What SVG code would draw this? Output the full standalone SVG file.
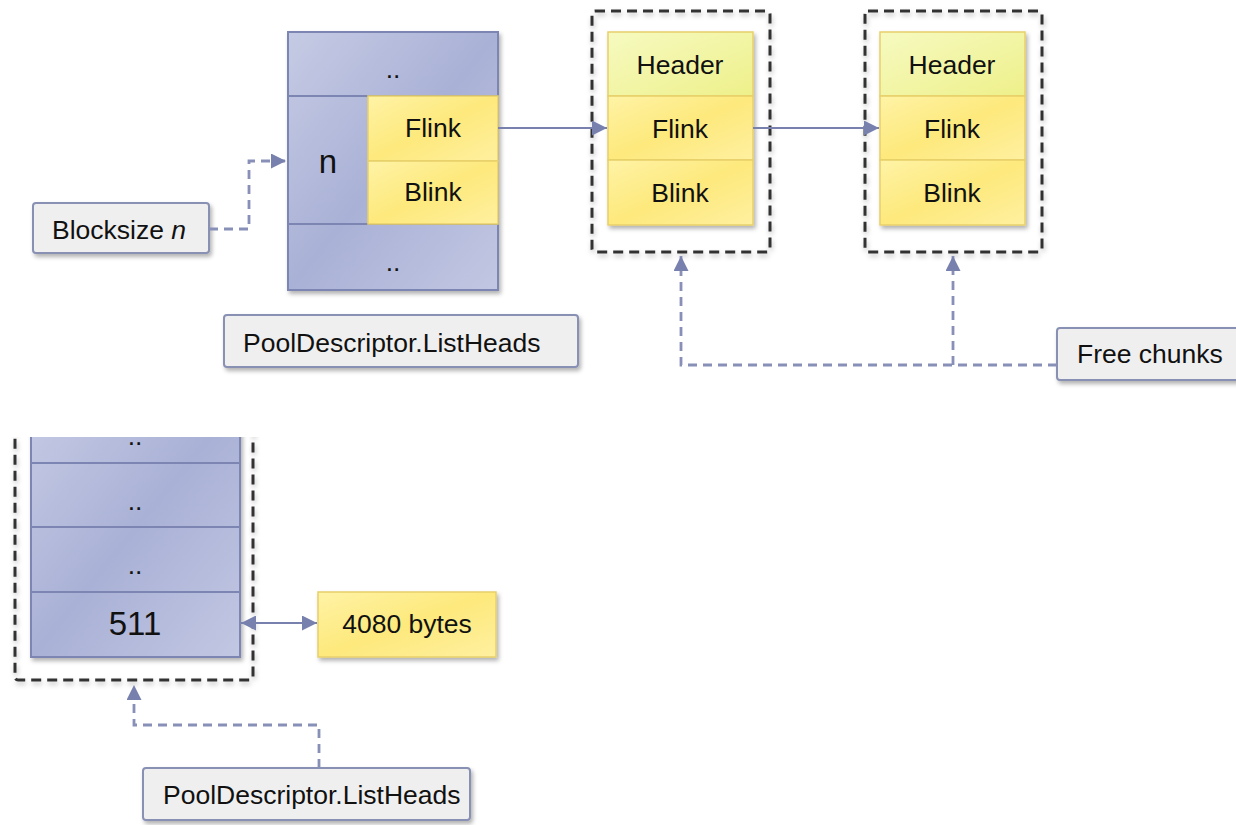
<svg xmlns="http://www.w3.org/2000/svg" width="1236" height="825" viewBox="0 0 1236 825">
<defs>
<linearGradient id="gBlue" x1="0" y1="0" x2="1" y2="1">
<stop offset="0" stop-color="#c6cbe4"/><stop offset="0.5" stop-color="#a9b1d6"/><stop offset="1" stop-color="#c2c7e2"/>
</linearGradient>
<linearGradient id="gYel" x1="0" y1="0" x2="1" y2="1">
<stop offset="0" stop-color="#fff3a6"/><stop offset="0.5" stop-color="#fde97c"/><stop offset="1" stop-color="#fff0a0"/>
</linearGradient>
<linearGradient id="gHead" x1="0" y1="0" x2="1" y2="1">
<stop offset="0" stop-color="#f6fac0"/><stop offset="1" stop-color="#eef08a"/>
</linearGradient>
<filter id="sh" x="-10%" y="-10%" width="130%" height="130%">
<feDropShadow dx="2" dy="3" stdDeviation="2" flood-color="#000" flood-opacity="0.3"/>
</filter>
<filter id="dsh" x="-10%" y="-10%" width="130%" height="130%">
<feDropShadow dx="1" dy="3" stdDeviation="2.5" flood-color="#000" flood-opacity="0.25"/>
</filter>
<marker id="ar" viewBox="0 0 10 10" refX="10" refY="5" markerWidth="15" markerHeight="15" markerUnits="userSpaceOnUse" orient="auto-start-reverse">
<path d="M0,0 L10,5 L0,10 z" fill="#7880ae"/>
</marker>
<clipPath id="clipB"><rect x="0" y="437" width="400" height="400"/></clipPath>
<style>
text{font-family:"Liberation Sans",Arial,sans-serif;font-size:26.5px;fill:#111}
.big{font-size:33px}
.blue{fill:url(#gBlue);stroke:#7d86b3;stroke-width:2}
.yel{fill:url(#gYel);stroke:#e8cf6a;stroke-width:1.5}
.head{fill:url(#gHead);stroke:#e8cf6a;stroke-width:1.5}
.gray{fill:#efefef;stroke:#8890b3;stroke-width:2}
.dbox{fill:none;stroke:#333;stroke-width:3;stroke-dasharray:10 6}
.sol{fill:none;stroke:#7880ae;stroke-width:2}
.dsh{fill:none;stroke:#8890b8;stroke-width:2.8;stroke-dasharray:9 6}
.c{text-anchor:middle}
</style>
</defs>

<g id="listheads-top">
<rect class="blue" x="288" y="32" width="210" height="258" filter="url(#sh)"/>
<line x1="288" y1="96" x2="498" y2="96" stroke="#7d86b3" stroke-width="2"/>
<line x1="288" y1="224" x2="498" y2="224" stroke="#7d86b3" stroke-width="2"/>
<rect class="yel" x="368" y="96" width="130" height="65"/>
<rect class="yel" x="368" y="161" width="130" height="63"/>
<text class="c" x="393" y="78">..</text>
<text class="c big" x="328" y="173">n</text>
<text class="c" x="433" y="137">Flink</text>
<text class="c" x="433" y="201">Blink</text>
<text class="c" x="393" y="271">..</text>
</g>

<g id="chunk1">
<rect class="dbox" x="592" y="11" width="178" height="241" rx="3" filter="url(#dsh)"/>
<g filter="url(#sh)">
<rect class="head" x="608" y="32" width="145" height="64"/>
<rect class="yel" x="608" y="96" width="145" height="64"/>
<rect class="yel" x="608" y="160" width="145" height="65"/>
</g>
<text class="c" x="680" y="74">Header</text>
<text class="c" x="680" y="138">Flink</text>
<text class="c" x="680" y="202">Blink</text>
</g>

<g id="chunk2">
<rect class="dbox" x="865" y="11" width="177" height="241" rx="3" filter="url(#dsh)"/>
<g filter="url(#sh)">
<rect class="head" x="880" y="32" width="145" height="64"/>
<rect class="yel" x="880" y="96" width="145" height="64"/>
<rect class="yel" x="880" y="160" width="145" height="65"/>
</g>
<text class="c" x="952" y="74">Header</text>
<text class="c" x="952" y="138">Flink</text>
<text class="c" x="952" y="202">Blink</text>
</g>

<g id="blocksize">
<rect class="gray" x="33" y="203" width="176" height="50" rx="3" filter="url(#sh)"/>
<text x="52" y="239">Blocksize <tspan font-style="italic">n</tspan></text>
</g>

<g id="pooldesc-top">
<rect class="gray" x="224" y="315" width="354" height="52" rx="3" filter="url(#sh)"/>
<text x="243" y="352">PoolDescriptor.ListHeads</text>
</g>

<g id="freechunks">
<rect class="gray" x="1057" y="328" width="190" height="52" rx="3" filter="url(#sh)"/>
<text x="1077" y="363">Free chunks</text>
</g>

<g id="listheads-bottom">
<rect class="dbox" x="15" y="420" width="238" height="260" rx="3" clip-path="url(#clipB)" filter="url(#dsh)"/>
<g clip-path="url(#clipB)">
<rect class="blue" x="31" y="400" width="209" height="257" filter="url(#sh)"/>
<line x1="31" y1="463" x2="240" y2="463" stroke="#7d86b3" stroke-width="2"/>
<line x1="31" y1="527" x2="240" y2="527" stroke="#7d86b3" stroke-width="2"/>
<line x1="31" y1="592" x2="240" y2="592" stroke="#7d86b3" stroke-width="2"/>
<text class="c" x="135" y="445">..</text>
</g>
<text class="c" x="135" y="510">..</text>
<text class="c" x="135" y="574">..</text>
<text class="c big" x="135" y="635">511</text>
</g>

<g id="bytes4080">
<rect class="yel" x="318" y="592" width="178" height="65" filter="url(#sh)"/>
<text class="c" x="407" y="633">4080 bytes</text>
</g>

<g id="pooldesc-bottom">
<rect class="gray" x="143" y="768" width="327" height="52" rx="3" filter="url(#sh)"/>
<text x="163" y="804">PoolDescriptor.ListHeads</text>
</g>

<g id="connectors">
<line class="sol" x1="498" y1="128" x2="607" y2="128" marker-end="url(#ar)"/>
<line class="sol" x1="753" y1="128" x2="879" y2="128" marker-end="url(#ar)"/>
<line class="sol" x1="241" y1="623" x2="317" y2="623" marker-start="url(#ar)" marker-end="url(#ar)"/>
<path class="dsh" d="M209,229 H249 V161 H286" marker-end="url(#ar)"/>
<path class="dsh" d="M1057,365 H681 V256" marker-end="url(#ar)"/>
<path class="dsh" d="M953,365 V256" marker-end="url(#ar)"/>
<path class="dsh" d="M319,768 V725 H134 V685" marker-end="url(#ar)"/>
</g>
</svg>
